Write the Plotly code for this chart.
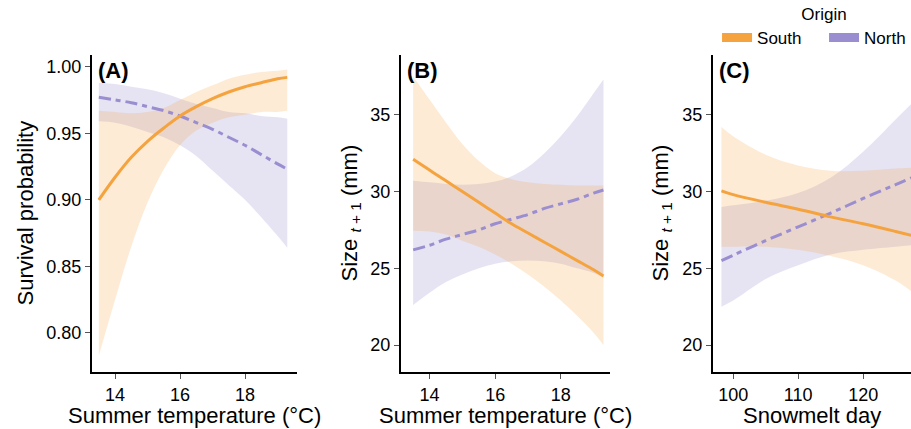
import plotly.graph_objects as go

# ---------------- data ----------------
# Panel A: survival probability vs summer temperature
a_temp = [13.5, 14.0, 14.5, 15.0, 15.5, 16.0, 16.5, 17.0, 17.5, 18.0, 18.5, 19.0, 19.3]
a_south = [0.900, 0.917, 0.932, 0.944, 0.954, 0.963, 0.970, 0.976, 0.981, 0.985, 0.988, 0.991, 0.992]
a_south_lo = [0.783, 0.825, 0.865, 0.898, 0.923, 0.941, 0.952, 0.958, 0.962, 0.964, 0.966, 0.966, 0.967]
a_south_hi = [0.967, 0.966, 0.965, 0.966, 0.969, 0.975, 0.981, 0.986, 0.991, 0.994, 0.996, 0.997, 0.998]
a_north = [0.977, 0.975, 0.973, 0.970, 0.967, 0.963, 0.958, 0.953, 0.947, 0.941, 0.934, 0.927, 0.923]
a_north_lo = [0.959, 0.958, 0.955, 0.951, 0.947, 0.941, 0.933, 0.922, 0.911, 0.900, 0.887, 0.873, 0.864]
a_north_hi = [0.988, 0.987, 0.985, 0.983, 0.980, 0.976, 0.972, 0.969, 0.966, 0.965, 0.963, 0.962, 0.961]

# Panel B: size t+1 vs summer temperature
b_temp = [13.5, 14.0, 14.5, 15.0, 15.5, 16.0, 16.5, 17.0, 17.5, 18.0, 18.5, 19.0, 19.3]
b_south = [32.1, 31.4, 30.7, 30.0, 29.3, 28.6, 27.9, 27.3, 26.7, 26.1, 25.5, 24.9, 24.5]
b_south_lo = [27.45, 27.4, 27.2, 26.8, 26.4, 25.9, 25.3, 24.6, 23.8, 22.9, 21.9, 20.8, 20.0]
b_south_hi = [37.5, 36.0, 34.5, 33.1, 32.0, 31.2, 30.8, 30.6, 30.5, 30.45, 30.4, 30.4, 30.4]
b_north = [26.2, 26.5, 26.9, 27.2, 27.5, 27.9, 28.2, 28.5, 28.9, 29.2, 29.5, 29.9, 30.1]
b_north_lo = [22.6, 23.4, 24.1, 24.6, 25.0, 25.3, 25.45, 25.5, 25.45, 25.3, 25.0, 24.7, 24.4]
b_north_hi = [30.7, 30.6, 30.5, 30.45, 30.5, 30.65, 31.0, 31.6, 32.5, 33.6, 34.9, 36.4, 37.3]

# Panel C: size t+1 vs snowmelt day
c_day = [98.2, 100, 105, 110, 115, 120, 125, 127.4]
c_south = [30.05, 29.8, 29.3, 28.85, 28.35, 27.9, 27.4, 27.15]
c_south_lo = [26.4, 26.4, 26.4, 26.2, 25.8, 25.2, 24.2, 23.5]
c_south_hi = [34.2, 33.6, 32.4, 31.7, 31.35, 31.35, 31.5, 31.55]
c_north = [25.5, 25.85, 26.8, 27.7, 28.6, 29.55, 30.45, 30.9]
c_north_lo = [22.5, 22.9, 24.3, 25.2, 25.9, 26.2, 26.4, 26.5]
c_north_hi = [29.0, 29.1, 29.4, 29.9, 30.9, 32.6, 34.7, 35.7]

origins = ["South", "North"]
a_yticks = [0.80, 0.85, 0.90, 0.95, 1.00]
size_yticks = [20, 25, 30, 35]
temp_xticks = [14, 16, 18]
day_xticks = [100, 110, 120]
xtitles = ["Summer temperature (°C)", "Summer temperature (°C)", "Snowmelt day"]
ytitles = ["Survival probability", "Size <sub><i>t</i> + 1</sub> (mm)", "Size <sub><i>t</i> + 1</sub> (mm)"]
labels = ["(A)", "(B)", "(C)"]

# ---------------- style ----------------
FONT = "Liberation Sans, Arial, sans-serif"
ORANGE = "#F5A33F"
PURPLE = "#9B8ED0"
ORANGE_FILL = "rgba(245,165,63,0.22)"
PURPLE_FILL = "rgba(155,143,208,0.25)"
DASH = "12px,5px,5px,5px"

W, H = 911, 429
def px_x(p):
    return p / W
def px_y(p):
    return 1 - p / H

ytop, ybot = 55, 372
panels = [
    dict(x0=92, x1=297, xr=[13.29, 19.6], yr=[0.7707, 1.0088], ytx=25),
    dict(x0=401, x1=610, xr=[13.13, 19.5], yr=[18.24, 38.9], ytx=350),
    dict(x0=713, x1=911, xr=[96.9, 127.36], yr=[18.24, 38.9], ytx=661),
]

data_sets = [
    (a_temp, a_south, a_south_lo, a_south_hi, a_north, a_north_lo, a_north_hi),
    (b_temp, b_south, b_south_lo, b_south_hi, b_north, b_north_lo, b_north_hi),
    (c_day, c_south, c_south_lo, c_south_hi, c_north, c_north_lo, c_north_hi),
]

fig = go.Figure()

def band(x, lo, hi, color, xa, ya):
    fig.add_trace(go.Scatter(x=x, y=lo, mode="lines", line=dict(width=0, shape="spline"),
                             showlegend=False, hoverinfo="skip", xaxis=xa, yaxis=ya))
    fig.add_trace(go.Scatter(x=x, y=hi, mode="lines", line=dict(width=0, shape="spline"),
                             fill="tonexty", fillcolor=color,
                             showlegend=False, hoverinfo="skip", xaxis=xa, yaxis=ya))

for i, (x, s, slo, shi, n, nlo, nhi) in enumerate(data_sets):
    xa = "x" if i == 0 else f"x{i+1}"
    ya = "y" if i == 0 else f"y{i+1}"
    band(x, nlo, nhi, PURPLE_FILL, xa, ya)
    band(x, slo, shi, ORANGE_FILL, xa, ya)
    fig.add_trace(go.Scatter(x=x, y=n, mode="lines",
                             line=dict(color=PURPLE, width=3, dash=DASH, shape="spline"),
                             showlegend=False, xaxis=xa, yaxis=ya))
    fig.add_trace(go.Scatter(x=x, y=s, mode="lines",
                             line=dict(color=ORANGE, width=3, shape="spline"),
                             showlegend=False, xaxis=xa, yaxis=ya))

# legend entries
for name, col in zip(origins, [ORANGE, PURPLE]):
    fig.add_trace(go.Scatter(x=[None], y=[None], mode="lines", name=name,
                             line=dict(color=col, width=9), showlegend=True))

axis_common = dict(showline=True, linecolor="black", linewidth=2, ticks="outside",
                   ticklen=5, tickwidth=1, tickcolor="#555555", showgrid=False, zeroline=False,
                   automargin=False,
                   tickfont=dict(family=FONT, size=18, color="black"))

layout = dict(
    width=W, height=H, margin=dict(l=0, r=0, t=0, b=0, autoexpand=False),
    paper_bgcolor="white", plot_bgcolor="white",
    font=dict(family=FONT, color="black"),
    showlegend=True,
    legend=dict(orientation="h", x=1.022, xanchor="right", y=1.005, yanchor="top",
                traceorder="normal",
                font=dict(family=FONT, size=17), bgcolor="rgba(0,0,0,0)",
                title=dict(text="Origin", side="top center", font=dict(family=FONT, size=17)),
                itemwidth=30, entrywidth=62, entrywidthmode="pixels"),
)

xticks = [temp_xticks, temp_xticks, day_xticks]
yticks = [a_yticks, size_yticks, size_yticks]
yfmt = [".2f", "d", "d"]

for i, p in enumerate(panels):
    k = "" if i == 0 else str(i + 1)
    layout["xaxis" + k] = dict(axis_common, domain=[px_x(p["x0"]), min(1.0, px_x(p["x1"]))],
                               range=p["xr"], tickvals=xticks[i], anchor="y" + k)
    layout["yaxis" + k] = dict(axis_common, domain=[px_y(ybot), px_y(ytop)], range=p["yr"],
                               tickvals=yticks[i], tickformat=yfmt[i], anchor="x" + k)

fig.update_layout(**layout)

for i, p in enumerate(panels):
    # panel label
    fig.add_annotation(text=f"<b>{labels[i]}</b>", x=px_x(p["x0"] + 4), y=px_y(ytop + 1),
                       xref="paper", yref="paper", xanchor="left", yanchor="top",
                       showarrow=False, font=dict(family=FONT, size=22, color="black"))
    # x title
    fig.add_annotation(text=xtitles[i], x=px_x((p["x0"] + p["x1"]) / 2), y=px_y(415),
                       xref="paper", yref="paper", xanchor="center", yanchor="middle",
                       showarrow=False, font=dict(family=FONT, size=22, color="black"))
    # y title
    fig.add_annotation(text=ytitles[i], x=px_x(p["ytx"]), y=px_y((ytop + ybot) / 2),
                       xref="paper", yref="paper", xanchor="center", yanchor="middle",
                       textangle=-90, showarrow=False,
                       font=dict(family=FONT, size=22, color="black"))

fig.write_html("out.html", config={"displayModeBar": False},
               post_script="document.body.style.margin='0';document.body.style.overflow='hidden';")
